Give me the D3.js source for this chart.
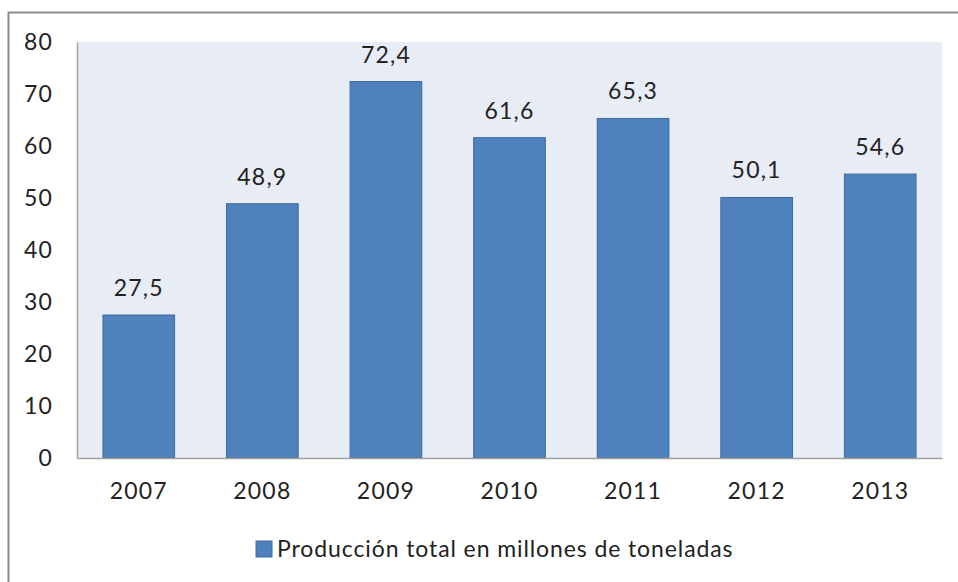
<!DOCTYPE html>
<html lang="es">
<head>
<meta charset="UTF-8">
<title>Producción total</title>
<script src="https://d3js.org/d3.v7.min.js"></script>
<style>
body { margin: 0; background: #fff; }
#chart svg { display: block; }
text { font-family: Lato, "Open Sans", sans-serif; fill: #222; }
</style>
</head>
<body>
<div id="chart"></div>
<script>
// datos del gráfico
var years = ['2007', '2008', '2009', '2010', '2011', '2012', '2013'];
var produccion = [27.5, 48.9, 72.4, 61.6, 65.3, 50.1, 54.6];
var yTicks = [0, 10, 20, 30, 40, 50, 60, 70, 80];
var seriesName = 'Producción total en millones de toneladas';

var width = 958, height = 582;
var plot = { left: 77, top: 42, right: 942, bottom: 458 };

var svg = d3.select('#chart').append('svg')
    .attr('width', width)
    .attr('height', height);

// marco exterior
svg.append('rect')
    .attr('x', 8.5).attr('y', 12.5)
    .attr('width', width + 20).attr('height', height + 20)
    .attr('fill', 'none')
    .attr('stroke', '#8c8c8c')
    .attr('stroke-width', 2);

var x = d3.scaleBand()
    .domain(years)
    .range([plot.left, plot.right])
    .paddingInner(0.42)
    .paddingOuter(0.21);

var y = d3.scaleLinear()
    .domain([0, 80])
    .range([plot.bottom, plot.top]);

// fondo del área de trazado
svg.append('rect')
    .attr('x', plot.left).attr('y', plot.top)
    .attr('width', plot.right - plot.left)
    .attr('height', plot.bottom - plot.top)
    .attr('fill', '#e8ecf5');

// barras
svg.selectAll('.bar')
    .data(produccion)
    .enter().append('rect')
    .attr('class', 'bar')
    .attr('x', function(d, i) { return x(years[i]); })
    .attr('y', function(d) { return y(d); })
    .attr('width', x.bandwidth())
    .attr('height', function(d) { return y(0) - y(d); })
    .attr('fill', '#4f81bd')
    .attr('stroke', '#3e6a9e')
    .attr('stroke-width', 1);

// etiquetas de valor
svg.selectAll('.lbl')
    .data(produccion)
    .enter().append('text')
    .attr('class', 'lbl')
    .attr('x', function(d, i) { return x(years[i]) + x.bandwidth() / 2; })
    .attr('y', function(d) { return y(d) - 19; })
    .attr('text-anchor', 'middle')
    .attr('font-size', '23px')
    .attr('letter-spacing', '1.2px')
    .text(function(d) { return d3.format('.1f')(d).replace('.', ','); });

// eje Y
var yAxis = d3.axisLeft(y).tickValues(yTicks).tickSize(0).tickPadding(24);
var gy = svg.append('g')
    .attr('transform', 'translate(' + plot.left + ',0)')
    .call(yAxis);
gy.select('.domain').attr('stroke', '#a0a0a0').attr('stroke-width', 1.5);
gy.selectAll('text').attr('font-size', '23px').attr('letter-spacing', '1.2px')
    .attr('font-family', 'Lato, sans-serif').attr('fill', '#222');

// eje X
var xAxis = d3.axisBottom(x).tickSize(0).tickPadding(25);
var gx = svg.append('g')
    .attr('transform', 'translate(0,' + plot.bottom + ')')
    .call(xAxis);
gx.select('.domain').attr('stroke', '#a0a0a0').attr('stroke-width', 1.5);
gx.selectAll('text').attr('font-size', '23px').attr('letter-spacing', '1.2px')
    .attr('font-family', 'Lato, sans-serif').attr('fill', '#222');

// leyenda
var legend = svg.append('g').attr('transform', 'translate(256,541)');
legend.append('rect')
    .attr('width', 16).attr('height', 16)
    .attr('fill', '#4f81bd')
    .attr('stroke', '#3e6a9e');
legend.append('text')
    .attr('x', 21).attr('y', 16)
    .attr('font-size', '23px')
    .attr('letter-spacing', '0.9px')
    .text(seriesName);
</script>
</body>
</html>
